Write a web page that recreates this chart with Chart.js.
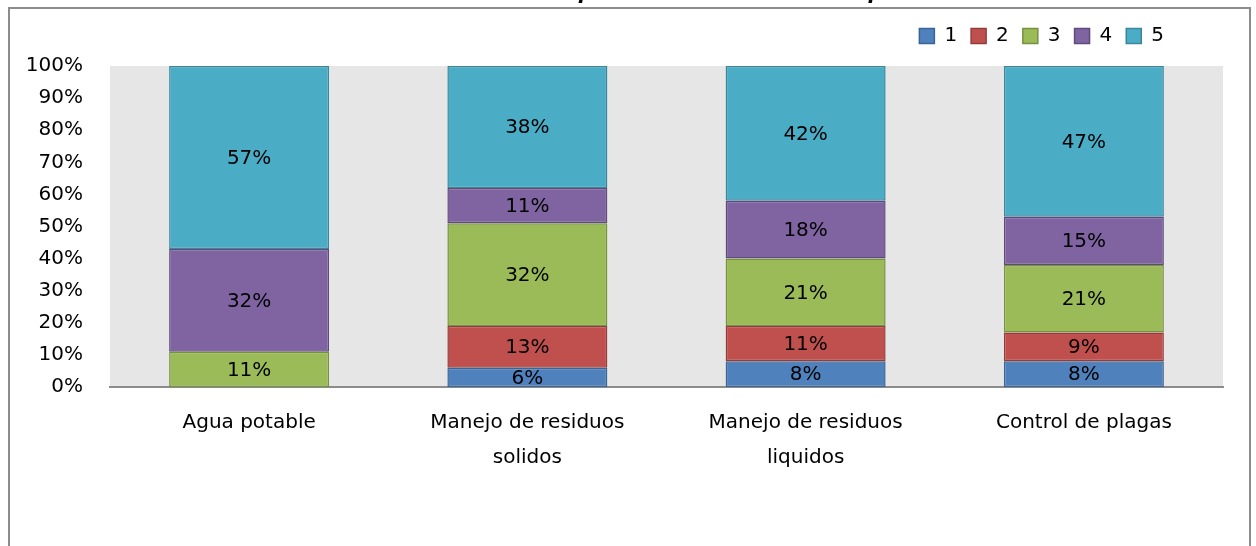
<!DOCTYPE html>
<html>
<head>
<meta charset="utf-8">
<script src="https://cdn.jsdelivr.net/npm/chart.js@4"></script>
<style>
  html, body { margin: 0; padding: 0; background: #fff; }
  #wrap { width: 1256px; height: 546px; }
</style>
</head>
<body>
<div id="wrap"><canvas id="calChart" width="1256" height="546"></canvas></div>
<script>
// categorias y porcentajes por calificacion (1..5)
var categorias = [['Agua potable'], ['Manejo de residuos', 'solidos'], ['Manejo de residuos', 'liquidos'], ['Control de plagas']];
var serie1 = [0, 6, 8, 8];
var serie2 = [0, 13, 11, 9];
var serie3 = [11, 32, 21, 21];
var serie4 = [32, 11, 18, 15];
var serie5 = [57, 38, 42, 47];
var nombres = ['1', '2', '3', '4', '5'];
var yTicks = [0, 10, 20, 30, 40, 50, 60, 70, 80, 90, 100];

var relleno = ['#4F81BD', '#C0504D', '#9BBB59', '#8064A2', '#4BACC6'];
var borde = ['#3A6595', '#943C3A', '#76923F', '#5F4A7C', '#3A879C'];
var FONT = 'DejaVu Sans';
var FS = 20;

var series = [serie1, serie2, serie3, serie4, serie5];
var datasets = series.map(function (s, i) {
    return {
        label: nombres[i],
        data: s,
        backgroundColor: relleno[i],
        borderColor: borde[i],
        borderWidth: 1.5,
        borderSkipped: false,
        barPercentage: 0.575,
        categoryPercentage: 1
    };
});

// fondo gris del area de trazado, marco y titulo cortado
var marco = {
    id: 'marco',
    beforeDraw: function (chart) {
        var c = chart.ctx, a = chart.chartArea;
        c.save();
        c.fillStyle = '#E6E6E6';
        c.fillRect(a.left, a.top, a.right - a.left, a.bottom - a.top);
        c.strokeStyle = '#8C8C8C';
        c.lineWidth = 2;
        c.beginPath();
        c.moveTo(9, 560);
        c.lineTo(9, 8);
        c.lineTo(1250, 8);
        c.lineTo(1250, 560);
        c.stroke();
        c.fillStyle = '#000';
        c.font = 'italic bold 20px ' + FONT;
        c.textAlign = 'center';
        c.textBaseline = 'alphabetic';
        c.fillText('Grafica 3. Calificación de aspectos ambientales de la planta', 603, -1);
        c.restore();
    },
    afterUpdate: function (chart) {
        // leyenda: un poco a la izquierda y mas arriba que el area de trazado
        var lg = chart.legend;
        if (lg) {
            lg.right = 1178;
            lg.top -= 10;
            lg.bottom -= 10;
            lg.adjustHitBoxes();
        }
    }
};

// etiquetas de porcentaje dentro de cada segmento
var etiquetas = {
    id: 'etiquetas',
    afterDatasetsDraw: function (chart) {
        var c = chart.ctx;
        c.save();
        c.fillStyle = '#000';
        c.font = FS + 'px ' + FONT;
        c.textAlign = 'center';
        c.textBaseline = 'middle';
        chart.data.datasets.forEach(function (ds, i) {
            var meta = chart.getDatasetMeta(i);
            meta.data.forEach(function (bar, j) {
                var v = ds.data[j];
                if (!v) return;
                c.fillText(v + '%', bar.x, (bar.y + bar.base) / 2 + 1);
            });
        });
        c.restore();
    }
};

new Chart(document.getElementById('calChart').getContext('2d'), {
    type: 'bar',
    data: { labels: categorias, datasets: datasets },
    options: {
        responsive: false,
        animation: false,
        layout: { padding: { left: 10, right: 33, top: 22, bottom: 0 } },
        plugins: {
            title: { display: false },
            tooltip: { enabled: false },
            legend: {
                display: true,
                position: 'top',
                align: 'end',
                labels: {
                    boxWidth: 15,
                    boxHeight: 15,
                    padding: 14,
                    color: '#000',
                    font: { family: FONT, size: FS },
                    generateLabels: function (chart) {
                        return chart.data.datasets.map(function (ds, i) {
                            return {
                                text: ds.label,
                                fillStyle: relleno[i],
                                strokeStyle: borde[i],
                                lineWidth: 1.5,
                                datasetIndex: i
                            };
                        });
                    }
                }
            }
        },
        scales: {
            x: {
                stacked: true,
                grid: { display: false },
                border: { display: true, color: '#8C8C8C', width: 2 },
                ticks: {
                    color: '#000',
                    padding: 10,
                    font: { family: FONT, size: FS, lineHeight: 1.75 },
                    maxRotation: 0
                },
                afterFit: function (s) { s.height = 159; }
            },
            y: {
                stacked: true,
                min: 0,
                max: 100,
                grid: { display: false },
                border: { display: false },
                afterBuildTicks: function (s) {
                    s.ticks = yTicks.map(function (v) { return { value: v }; });
                },
                ticks: {
                    color: '#000',
                    padding: 19,
                    font: { family: FONT, size: FS },
                    callback: function (v) { return v + '%'; }
                },
                afterFit: function (s) { s.width = 100; }
            }
        }
    },
    plugins: [marco, etiquetas]
});
</script>
</body>
</html>
